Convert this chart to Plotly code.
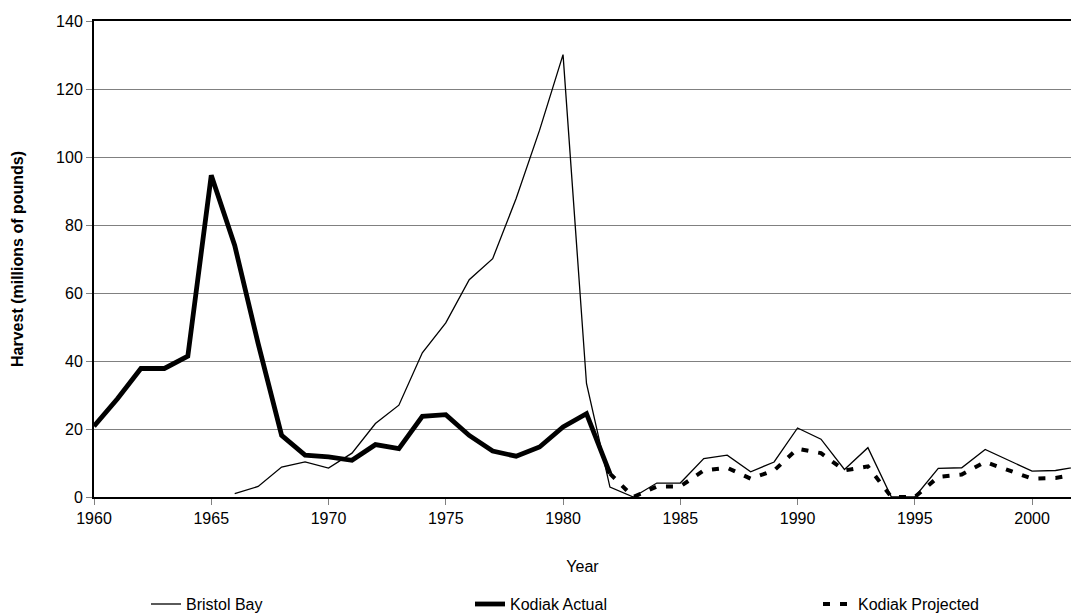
import plotly.graph_objects as go

bristol_years = list(range(1966, 2003))
bristol_bay = [1.0, 3.1, 8.8, 10.3, 8.5, 12.9, 21.6, 27.0, 42.4, 51.2,
               63.9, 70.1, 87.8, 107.9, 130.1, 33.4, 2.9, 0.0, 4.1, 4.1,
               11.3, 12.3, 7.4, 10.3, 20.3, 17.0, 8.1, 14.5, 0.0, 0.0,
               8.4, 8.6, 14.0, 10.8, 7.6, 7.8, 9.0]

kodiak_actual_years = list(range(1960, 1983))
kodiak_actual = [20.8, 28.9, 37.8, 37.8, 41.4, 94.6, 74.0, 45.1, 18.1, 12.3,
                 11.8, 10.8, 15.4, 14.2, 23.7, 24.2, 18.1, 13.5, 12.0, 14.7,
                 20.6, 24.5, 6.9]

kodiak_proj_years = list(range(1982, 2003))
kodiak_projected = [6.9, 0.0, 3.1, 3.1, 7.8, 8.6, 5.4, 7.8, 14.2, 12.9,
                    7.8, 9.0, 0.0, 0.0, 5.9, 6.6, 10.3, 7.8, 5.4, 5.6, 6.8]

y_ticks = [0, 20, 40, 60, 80, 100, 120, 140]
x_ticks = [1960, 1965, 1970, 1975, 1980, 1985, 1990, 1995, 2000]

FONT = "Liberation Sans, Arial, sans-serif"
FS = 16

fig = go.Figure()
fig.add_trace(go.Scatter(x=bristol_years, y=bristol_bay, mode="lines",
                         name="Bristol Bay", line=dict(color="black", width=1.3),
                         legend="legend"))
fig.add_trace(go.Scatter(x=kodiak_actual_years, y=kodiak_actual, mode="lines",
                         name="Kodiak Actual", line=dict(color="black", width=4.8),
                         legend="legend2"))
fig.add_trace(go.Scatter(x=kodiak_proj_years, y=kodiak_projected, mode="lines",
                         name="Kodiak Projected",
                         line=dict(color="black", width=4, dash="7px,10px"),
                         legend="legend3"))

legend_common = dict(orientation="h", yanchor="middle", y=-0.225, xanchor="left",
                     font=dict(family=FONT, size=FS, color="black"),
                     bgcolor="rgba(0,0,0,0)", itemwidth=30)

fig.update_layout(
    width=1071, height=614,
    margin=dict(l=94, r=0, t=21, b=117, autoexpand=False),
    plot_bgcolor="white", paper_bgcolor="white",
    font=dict(family=FONT, size=FS, color="black"),
    showlegend=True,
    legend=dict(**legend_common, x=(146 - 94) / 977),
    legend2=dict(**legend_common, x=(470 - 94) / 977),
    legend3=dict(**legend_common, x=(818 - 94) / 977),
    xaxis=dict(range=[1960, 2001.66], tickvals=x_ticks,
               ticktext=[str(v) for v in x_ticks],
               showgrid=False, zeroline=False, automargin=False,
               showline=True, linecolor="black", linewidth=2, mirror=True,
               ticks="outside", ticklen=6, tickcolor="#808080", tickwidth=1,
               tickfont=dict(family=FONT, size=FS),
               title=dict(text="Year", font=dict(family=FONT, size=FS), standoff=35)),
    yaxis=dict(range=[0, 140], tickvals=y_ticks,
               showgrid=True, gridcolor="#808080", gridwidth=1,
               zeroline=False, automargin=False,
               showline=True, linecolor="black", linewidth=2,
               ticks="outside", ticklen=6, tickcolor="#808080", tickwidth=1,
               tickfont=dict(family=FONT, size=FS),
               title=dict(text="<b>Harvest (millions of pounds)</b>",
                          font=dict(family=FONT, size=FS), standoff=28)),
)

fig.write_html("out.html",
               config={"displayModeBar": False},
               post_script="document.body.style.margin='0';"
                           "document.body.style.overflow='hidden';")
